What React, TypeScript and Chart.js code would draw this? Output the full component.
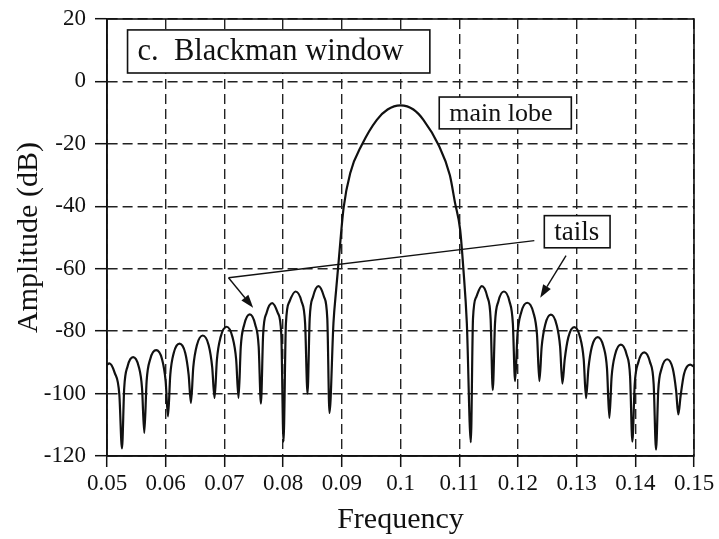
import React, { useEffect, useRef } from "react";
import { Chart, registerables } from "chart.js";

Chart.register(...registerables);

// ---- data ----
const freq = [
  0.05, 0.0504, 0.0513, 0.0521, 0.05255,
  0.05293, 0.0535, 0.05445, 0.0554, 0.05597, 0.05635,
  0.05675, 0.05736, 0.05837, 0.05938, 0.05999, 0.06039,
  0.06078, 0.06137, 0.06235, 0.06333, 0.06391, 0.0643,
  0.0647, 0.06531, 0.06631, 0.06732, 0.06792, 0.06832,
  0.06873, 0.06934, 0.07037, 0.07139, 0.072, 0.07241,
  0.07279, 0.07336, 0.07432, 0.07527, 0.07584, 0.07622,
  0.0766, 0.07718, 0.07815, 0.07911, 0.07969, 0.08007,
  0.08048, 0.08109, 0.08212, 0.08314, 0.08375, 0.08416,
  0.08453, 0.0851, 0.08603, 0.08697, 0.08753, 0.0879,
  0.08858, 0.08904, 0.08944, 0.0903, 0.09143, 0.09342, 0.09597, 0.0978,
  0.1, 0.1022, 0.1039, 0.10646, 0.1084, 0.1093, 0.11016, 0.11072, 0.1113, 0.11198,
  0.11235, 0.11292, 0.11385, 0.11479, 0.11535, 0.11572,
  0.1161, 0.11667, 0.11762, 0.11857, 0.11914, 0.11952,
  0.11993, 0.12056, 0.12159, 0.12263, 0.12325, 0.12366,
  0.12405, 0.12464, 0.12562, 0.1266, 0.12719, 0.12758,
  0.12798, 0.12859, 0.1296, 0.1306, 0.13121, 0.13161,
  0.13201, 0.1326, 0.1336, 0.13459, 0.13518, 0.13558,
  0.13597, 0.13656, 0.13754, 0.13852, 0.13911, 0.1395,
  0.1399, 0.14051, 0.14152, 0.14252, 0.14313, 0.14353,
  0.14391, 0.14448, 0.14543, 0.14638, 0.14695, 0.14733,
  0.14772, 0.1483, 0.14935, 0.15,
];

const amp = [
  -90.8, -90.3, -93.3, -100.3, -117.6,
  -98.3, -91.3, -88.3, -91.3, -98.3, -112.6,
  -96.0, -89.0, -86.1, -89.0, -96.0, -107.3,
  -94.0, -87.0, -84.0, -87.0, -94.0, -103.0,
  -91.5, -84.5, -81.4, -84.5, -91.5, -101.4,
  -89.0, -82.0, -78.6, -82.0, -89.0, -101.4,
  -85.0, -78.0, -74.6, -78.0, -85.0, -103.2,
  -81.0, -74.2, -71.0, -74.2, -81.0, -115.4,
  -77.5, -70.5, -67.3, -70.5, -77.5, -100.0,
  -76.0, -69.0, -65.6, -69.0, -76.0, -106.2,
  -77.4, -66.7, -58.2, -40.6, -29.4, -20.3, -12.3, -9.0,
  -7.7, -9.0, -12.3, -20.3, -30.0, -39.0, -47.5, -60.3, -77.4, -115.6,
  -76.0, -69.0, -65.6, -69.0, -76.0, -98.9,
  -77.5, -70.5, -67.3, -70.5, -77.5, -96.0,
  -81.0, -74.0, -70.9, -74.0, -81.0, -96.0,
  -85.0, -78.0, -74.7, -78.0, -85.0, -96.8,
  -89.0, -82.0, -78.7, -82.0, -89.0, -101.5,
  -92.0, -85.0, -81.9, -85.0, -92.0, -107.8,
  -94.5, -87.5, -84.3, -87.5, -94.5, -115.4,
  -97.0, -90.0, -86.8, -90.0, -97.0, -118.0,
  -99.0, -92.0, -89.0, -92.0, -99.0, -106.7,
  -100.7, -93.7, -90.7, -91.4,
];

const xTickValues = [0.05, 0.06, 0.07, 0.08, 0.09, 0.1, 0.11, 0.12, 0.13, 0.14, 0.15];
const xTickLabels = ["0.05", "0.06", "0.07", "0.08", "0.09", "0.1", "0.11", "0.12", "0.13", "0.14", "0.15"];
const yTickValues = [-120, -100, -80, -60, -40, -20, 0, 20];
const yTickLabels = ["-120", "-100", "-80", "-60", "-40", "-20", "0", "20"];

const xTitle = "Frequency";
const yTitle = "Amplitude (dB)";

// annotation boxes (data units)
const boxLabels = ["c.  Blackman window", "main lobe", "tails"];
const boxX0 = [0.0535, 0.1066, 0.1245];
const boxX1 = [0.105, 0.1291, 0.1357];
const boxYTop = [16.5, -5.0, -43.0];
const boxYBottom = [2.7, -15.2, -53.3];
const boxFontSize = [30.5, 26, 27];

// pointer lines (data units)
const tailsLine = [
  [0.1228, -51.0],
  [0.0707, -62.9],
];
const arrowFrom = [
  [0.0707, -62.9],
  [0.1282, -55.8],
];
const arrowTo = [
  [0.0749, -72.5],
  [0.1238, -69.3],
];

const FONT = "'Liberation Serif', 'Times New Roman', Times, serif";
const INK = "#111";

const annotationPlugin = {
  id: "annotations",
  afterDatasetsDraw(chart: any) {
    const { ctx, chartArea } = chart;
    const xs = chart.scales.x;
    const ys = chart.scales.y;
    const px = (v: number) => xs.getPixelForValue(v);
    const py = (v: number) => ys.getPixelForValue(v);
    ctx.save();
    ctx.setLineDash([]);
    // frame
    ctx.strokeStyle = INK;
    ctx.lineWidth = 1.6;
    ctx.strokeRect(chartArea.left, chartArea.top, chartArea.right - chartArea.left, chartArea.bottom - chartArea.top);

    // pointer lines
    ctx.lineWidth = 1.4;
    ctx.beginPath();
    ctx.moveTo(px(tailsLine[0][0]), py(tailsLine[0][1]));
    ctx.lineTo(px(tailsLine[1][0]), py(tailsLine[1][1]));
    ctx.stroke();
    for (let i = 0; i < arrowFrom.length; i++) {
      const x1 = px(arrowFrom[i][0]);
      const y1 = py(arrowFrom[i][1]);
      const x2 = px(arrowTo[i][0]);
      const y2 = py(arrowTo[i][1]);
      const ang = Math.atan2(y2 - y1, x2 - x1);
      const L = 13;
      const W = 4.5;
      const bx = x2 - L * Math.cos(ang);
      const by = y2 - L * Math.sin(ang);
      ctx.beginPath();
      ctx.moveTo(x1, y1);
      ctx.lineTo(bx, by);
      ctx.stroke();
      ctx.beginPath();
      ctx.moveTo(x2, y2);
      ctx.lineTo(bx + W * Math.sin(ang), by - W * Math.cos(ang));
      ctx.lineTo(bx - W * Math.sin(ang), by + W * Math.cos(ang));
      ctx.closePath();
      ctx.fillStyle = INK;
      ctx.fill();
    }

    // boxes
    for (let i = 0; i < boxLabels.length; i++) {
      const x0 = px(boxX0[i]);
      const x1 = px(boxX1[i]);
      const y0 = py(boxYTop[i]);
      const y1 = py(boxYBottom[i]);
      ctx.fillStyle = "#fff";
      ctx.fillRect(x0, y0, x1 - x0, y1 - y0);
      ctx.strokeStyle = INK;
      ctx.lineWidth = 1.6;
      ctx.strokeRect(x0, y0, x1 - x0, y1 - y0);
      ctx.fillStyle = INK;
      ctx.font = `${boxFontSize[i]}px ${FONT}`;
      ctx.textAlign = "left";
      ctx.textBaseline = "middle";
      ctx.fillText(boxLabels[i], x0 + 10, (y0 + y1) / 2 + 1);
    }
    ctx.restore();
  },
};

export default function App() {
  const ref = useRef<HTMLCanvasElement | null>(null);
  useEffect(() => {
    if (!ref.current) return;
    const chart = new Chart(ref.current, {
      type: "line",
      data: {
        datasets: [
          {
            data: freq.map((f, i) => ({ x: f, y: amp[i] })),
            borderColor: INK,
            borderWidth: 2.2,
            pointRadius: 0,
            fill: false,
            cubicInterpolationMode: "monotone",
          },
        ],
      },
      options: {
        animation: false,
        responsive: false,
        devicePixelRatio: 1,
        layout: { padding: { left: 0, right: 25, top: 19, bottom: 0 } },
        plugins: { legend: { display: false }, tooltip: { enabled: false } },
        scales: {
          x: {
            type: "linear",
            min: 0.05,
            max: 0.15,
            afterBuildTicks: (s: any) => {
              s.ticks = xTickValues.map((v) => ({ value: v }));
            },
            afterFit: (s: any) => {
              s.height = 83;
              s.paddingLeft = 0;
              s.paddingRight = 0;
            },
            ticks: {
              autoSkip: false,
              maxRotation: 0,
              minRotation: 0,
              padding: 3,
              color: INK,
              font: { family: FONT, size: 23 },
              callback: (_v: any, i: number) => xTickLabels[i],
            },
            grid: { color: "#222", lineWidth: 1.4, tickLength: 11, tickColor: INK, tickWidth: 1.5 },
            border: { display: true, color: INK, width: 1.6, dash: [10, 5] },
            title: {
              display: true,
              text: xTitle,
              color: INK,
              font: { family: FONT, size: 30 },
              padding: { top: 0, bottom: 1 },
            },
          },
          y: {
            type: "linear",
            min: -120,
            max: 20,
            afterBuildTicks: (s: any) => {
              s.ticks = yTickValues.map((v) => ({ value: v }));
            },
            afterFit: (s: any) => {
              s.width = 107;
              s.paddingTop = 0;
              s.paddingBottom = 0;
            },
            ticks: {
              padding: 9,
              color: INK,
              font: { family: FONT, size: 23 },
              callback: (_v: any, i: number) => yTickLabels[i],
            },
            grid: { color: "#222", lineWidth: 1.4, tickLength: 12, tickColor: INK, tickWidth: 1.5 },
            border: { display: true, color: INK, width: 1.6, dash: [10, 5] },
            title: {
              display: true,
              text: yTitle,
              color: INK,
              font: { family: FONT, size: 30 },
              padding: { top: 11, bottom: 0 },
            },
          },
        },
      },
      plugins: [annotationPlugin],
    } as any);
    return () => chart.destroy();
  }, []);
  return (
    <div style={{ position: "fixed", left: 0, top: 0, width: 719, height: 539, background: "#fff" }}>
      <canvas ref={ref} width={719} height={539} style={{ display: "block" }} />
    </div>
  );
}
